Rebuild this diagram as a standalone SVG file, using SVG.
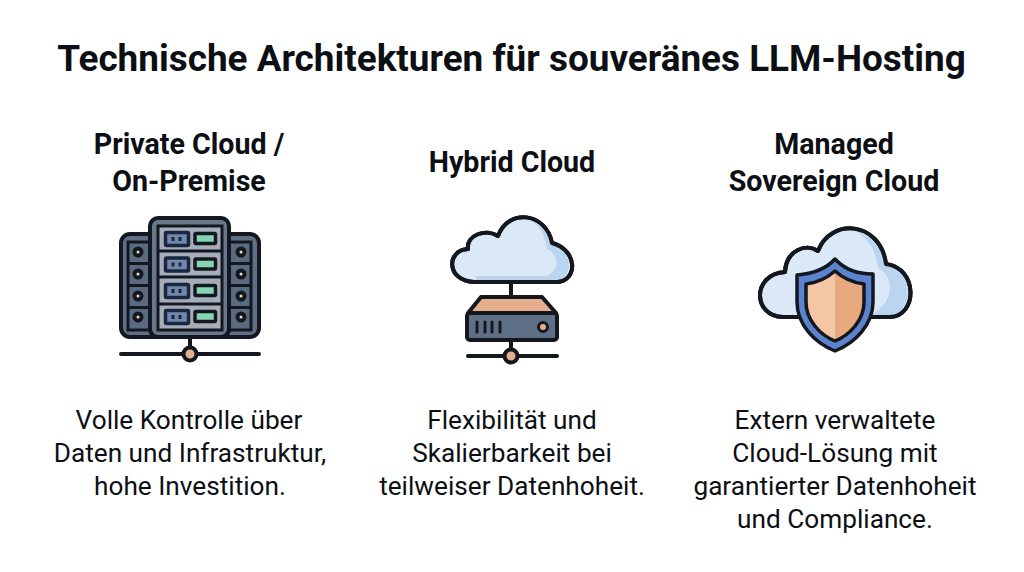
<svg xmlns="http://www.w3.org/2000/svg" width="1024" height="572" viewBox="0 0 1024 572">
<style>
text{font-family:Roboto,"Liberation Sans",sans-serif;text-anchor:middle;fill:#0c0f14}
.t{font-size:36.900px;font-weight:700}
.h{font-size:28.600px;font-weight:700}
.b{font-size:26.200px;font-weight:400}
.k{stroke:#14181e;stroke-width:4;stroke-linejoin:round;stroke-linecap:round}
.cl{fill:#dbe8f7}
.sh{fill:#b9d5f0}
.sv{fill:#5f6f85}
.pe{fill:#e5ae8c}
.gr{fill:#86d4b4;stroke:#14181e;stroke-width:3.500}
.ch{fill:#7387ad;stroke:#1a2740;stroke-width:3.500}
</style>
<rect width="1024" height="572" fill="#fff"/>
<text class="t" x="511.500" y="70.500">Technische Architekturen für souveränes LLM-Hosting</text>
<g id="private-cloud">
<text class="h" x="189" y="153.500">Private Cloud /</text>
<text class="h" x="189" y="190.500">On-Premise</text>
<g id="server-rack">
<rect class="k sv" x="121" y="234" width="138" height="103" rx="9"/>
<rect x="128" y="242" width="22" height="88" fill="#5a6a80" stroke="#14181e" stroke-width="3"/>
<rect x="229" y="242" width="22" height="88" fill="#5a6a80" stroke="#14181e" stroke-width="3"/>
<path d="M128 263.500H150M128 285.500H150M128 307.500H150M229 263.500H251M229 285.500H251M229 307.500H251" stroke="#14181e" stroke-width="3"/>
<g fill="#f0dcc4" stroke="#14181e" stroke-width="4">
<circle cx="138" cy="252" r="3.500"/><circle cx="138" cy="274" r="3.500"/><circle cx="138" cy="296" r="3.500"/><circle cx="138" cy="317" r="3.500"/>
<circle cx="241" cy="252" r="3.500"/><circle cx="241" cy="274" r="3.500"/><circle cx="241" cy="296" r="3.500"/><circle cx="241" cy="317" r="3.500"/>
</g>
<rect class="k" x="150" y="218" width="79" height="119" rx="8" fill="#67778c"/>
<rect x="158" y="226" width="64" height="104" fill="#a4adb9" stroke="#14181e" stroke-width="3"/>
<path d="M158 251H222M158 277H222M158 304H222" stroke="#14181e" stroke-width="3"/>
<rect class="ch" x="165.500" y="232.500" width="23" height="13" rx="1"/><rect class="gr" x="195" y="233.500" width="20.500" height="10" rx="1"/>
<rect class="ch" x="165.500" y="258" width="23" height="13" rx="1"/><rect class="gr" x="195" y="259" width="20.500" height="10" rx="1"/>
<rect class="ch" x="165.500" y="284.500" width="23" height="13" rx="1"/><rect class="gr" x="195" y="285.500" width="20.500" height="10" rx="1"/>
<rect class="ch" x="165.500" y="310.500" width="23" height="13" rx="1"/><rect class="gr" x="195" y="311.500" width="20.500" height="10" rx="1"/>
<path d="M173 237v4M180 237v4M173 262.500v4M180 262.500v4M173 289v4M180 289v4M173 315v4M180 315v4" stroke="#1a2740" stroke-width="3"/>
<path class="k" d="M190 337V348M121 354H259" fill="none"/>
<circle class="k pe" cx="190" cy="354" r="6.500"/>
</g>
<text class="b" x="189" y="429">Volle Kontrolle über</text>
<text class="b" x="190" y="462">Daten und Infrastruktur,</text>
<text class="b" x="190" y="495">hohe Investition.</text>
</g>
<g id="hybrid-cloud">
<text class="h" x="512" y="171.500">Hybrid Cloud</text>
<g id="cloud-server">
<path class="k" d="M511 282V297M511 340V349M468 356H557" fill="none"/>
<path class="k cl" d="M474 282C446 281 446 250 468 249C466 235 486 228 498 236C508 208 546 212 552 243C578 250 578 281 557 282Z"/>
<path class="sh" d="M530 221C546 226 550 238 552 244C570 250 574 270 562 279C556 281 480 281 476 280L476 276H545C560 272 560 255 547 249C545 235 540 226 530 221Z"/>
<path class="k" d="M474 282C446 281 446 250 468 249C466 235 486 228 498 236C508 208 546 212 552 243C578 250 578 281 557 282Z" fill="none"/>
<path class="k pe" d="M468 313L481 297H542L556 313Z"/>
<rect class="k sv" x="467" y="313" width="90" height="27" rx="3"/>
<path d="M477 322V332M485 322V332M492 322V332M500 322V332" stroke="#14181e" stroke-width="3" stroke-linecap="round"/>
<circle cx="543" cy="327" r="4.500" fill="#e5ae8c" stroke="#14181e" stroke-width="3"/>
<circle class="k pe" cx="511" cy="356" r="6.500"/>
</g>
<text class="b" x="512" y="429">Flexibilität und</text>
<text class="b" x="512" y="462">Skalierbarkeit bei</text>
<text class="b" x="512" y="495">teilweiser Datenhoheit.</text>
</g>
<g id="managed-sovereign-cloud">
<text class="h" x="834" y="153.500">Managed</text>
<text class="h" x="834" y="190.500">Sovereign Cloud</text>
<g id="cloud-shield">
<path class="k cl" d="M783 317C752 316 752 274 785 272C786 250 806 243 818 251C830 218 880 220 886 264C918 268 918 316 890 317Z"/>
<path class="sh" d="M855 231C872 236 884 250 886 265C912 270 914 305 895 315L870 315C895 305 895 275 878 268C876 250 868 238 855 231Z"/>
<path class="k" d="M783 317C752 316 752 274 785 272C786 250 806 243 818 251C830 218 880 220 886 264C918 268 918 316 890 317Z" fill="none"/>
<path d="M835 259C825 270 810 274 797 275V302C797 325 815 343 835 351C855 343 873 325 873 302V274C860 274 845 270 835 259Z" fill="#5b83cf" stroke="#14181e" stroke-width="3.500" stroke-linejoin="round"/>
<path d="M835 271C826 279 815 283 806 284V302C806 320 820 335 835 341V271Z" fill="#f3c6a5"/>
<path d="M835 271C844 279 855 283 864 284V302C864 320 850 335 835 341V271Z" fill="#e8a97f"/>
<path d="M835 271C826 279 815 283 806 284V302C806 320 820 335 835 341C850 335 864 320 864 302V284C855 283 844 279 835 271Z" fill="none" stroke="#14181e" stroke-width="3.500" stroke-linejoin="round"/>
</g>
<text class="b" x="835" y="429">Extern verwaltete</text>
<text class="b" x="835" y="462">Cloud-Lösung mit</text>
<text class="b" x="835" y="495">garantierter Datenhoheit</text>
<text class="b" x="835" y="528">und Compliance.</text>
</g>
</svg>
